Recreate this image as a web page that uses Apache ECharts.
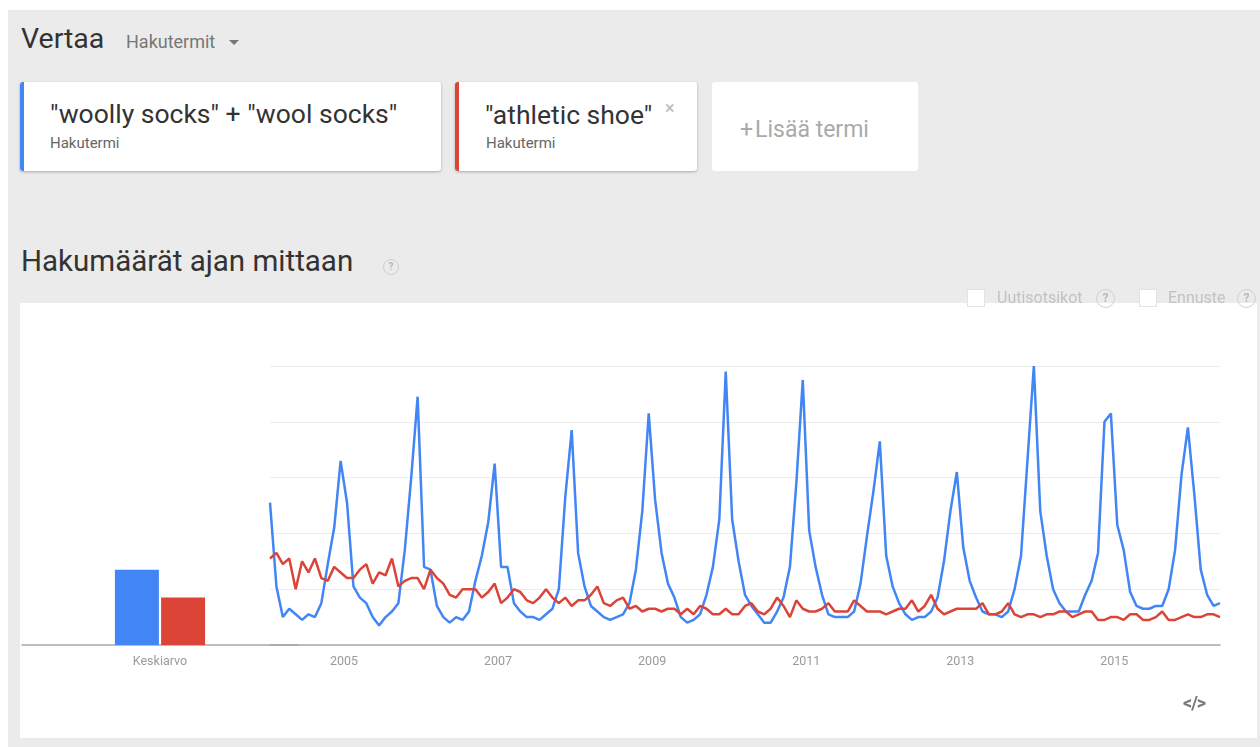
<!DOCTYPE html>
<html>
<head>
<meta charset="utf-8">
<script src="https://cdn.jsdelivr.net/npm/echarts@6/dist/echarts.min.js"></script>
<style>
  body { margin:0; width:1260px; height:747px; background:#fff; font-family:Roboto, Arial, sans-serif; overflow:hidden; position:relative; }
  .bg { position:absolute; left:8px; top:10px; width:1252px; height:737px; background:#ebebeb; }
  .t { position:absolute; white-space:nowrap; line-height:1; }
  .card { position:absolute; top:82px; height:89px; background:#fff; border-radius:3px; }
  .shadow { box-shadow:0 1px 3px rgba(0,0,0,0.28); }
  .bar-l { position:absolute; left:0; top:0; width:4px; height:100%; border-radius:3px 0 0 3px; }
  .q { position:absolute; box-sizing:border-box; border-radius:50%; border:1.5px solid #cfcfcf; color:#b8b8b8;
       font-weight:bold; text-align:center; font-family:Roboto, Arial, sans-serif; }
  .cb { position:absolute; box-sizing:border-box; width:18px; height:18px; background:#fff; border:1px solid #e2e2e2; }
  #chart { position:absolute; left:20px; top:303px; width:1237px; height:435px; background:#fff; }
</style>
</head>
<body>
<div class="bg"></div>

<div class="t" style="left:21px;top:25px;font-size:28.5px;color:#333;">Vertaa</div>
<div class="t" style="left:126px;top:33px;font-size:18px;color:#777;">Hakutermit</div>
<div style="position:absolute;left:229px;top:40px;width:0;height:0;border-left:5px solid transparent;border-right:5px solid transparent;border-top:5px solid #777;"></div>

<div class="card shadow" style="left:20px;width:421px;">
  <div class="bar-l" style="background:#4285f4;"></div>
</div>
<div class="t" style="left:50px;top:101px;font-size:26.5px;color:#333;">"woolly socks" + "wool socks"</div>
<div class="t" style="left:50px;top:136px;font-size:15px;color:#666;">Hakutermi</div>

<div class="card shadow" style="left:455px;width:242px;">
  <div class="bar-l" style="background:#db4437;"></div>
</div>
<div class="t" style="left:485px;top:102px;font-size:26.5px;color:#333;">"athletic shoe"</div>
<div class="t" style="left:486px;top:136px;font-size:15px;color:#666;">Hakutermi</div>
<div class="t" style="left:665px;top:99px;font-size:18px;color:#bbb;">×</div>

<div class="card" style="left:712px;width:206px;"></div>
<div class="t" style="left:740px;top:118px;font-size:23px;color:#aaa;"><span style="margin-right:2px;">+</span>Lisää termi</div>

<div class="t" style="left:21px;top:247px;font-size:29.5px;color:#333;">Hakumäärät ajan mittaan</div>
<div class="q" style="left:383px;top:259px;width:16px;height:16px;font-size:10px;line-height:13px;">?</div>

<div id="chart"></div>

<div class="cb" style="left:967px;top:289px;"></div>
<div class="t" style="left:997px;top:290px;font-size:16px;color:#c2c2c2;">Uutisotsikot</div>
<div class="q" style="left:1096px;top:289px;width:19px;height:19px;font-size:12px;line-height:16px;">?</div>
<div class="cb" style="left:1139px;top:289px;"></div>
<div class="t" style="left:1168px;top:290px;font-size:16px;color:#c2c2c2;">Ennuste</div>
<div class="q" style="left:1237px;top:289px;width:19px;height:19px;font-size:12px;line-height:16px;">?</div>

<div class="t" style="left:1183px;top:694px;font-size:18px;font-weight:bold;color:#777;letter-spacing:-1px;">&lt;/&gt;</div>

<script>
// Monthly search interest, Jan 2004 – May 2016 (relative scale 0–100)
const startYear = 2004;
const woollySocks = [
  51, 21, 10, 13, 11, 9, 11, 10, 15, 29, 42, 66,
  51, 21, 17, 15, 10, 7, 10, 12, 15, 34, 60, 89,
  28, 27, 14, 10, 8, 10, 9, 12, 23, 32, 44, 65,
  28, 28, 15, 12, 10, 10, 9, 11, 13, 20, 53, 77,
  33, 21, 14, 12, 10, 9, 10, 11, 15, 27, 48, 83,
  52, 33, 22, 17, 10, 8, 9, 11, 18, 28, 45, 98,
  45, 30, 18, 14, 11, 8, 8, 12, 17, 28, 58, 95,
  41, 28, 18, 11, 10, 10, 10, 12, 22, 39, 55, 73,
  32, 21, 15, 11, 9, 10, 10, 12, 17, 30, 48, 62,
  35, 23, 17, 12, 11, 11, 10, 12, 20, 32, 66, 100,
  48, 32, 20, 15, 12, 12, 12, 18, 23, 33, 80, 83,
  43, 34, 19, 14, 13, 13, 14, 14, 20, 34, 61, 78,
  54, 27, 18, 14, 15
];
const athleticShoe = [
  31, 33, 29, 31, 20, 30, 26, 31, 24, 23, 28, 26,
  24, 24, 27, 29, 22, 26, 25, 31, 21, 23, 24, 24,
  20, 27, 24, 22, 18, 17, 20, 20, 20, 17, 19, 22,
  15, 17, 20, 19, 16, 15, 17, 20, 17, 15, 17, 14,
  16, 16, 18, 21, 15, 14, 16, 17, 13, 14, 12, 13,
  13, 12, 13, 13, 11, 13, 11, 14, 13, 11, 11, 13,
  11, 11, 14, 15, 12, 11, 13, 17, 14, 10, 16, 13,
  12, 12, 13, 15, 12, 12, 12, 16, 14, 12, 12, 12,
  11, 12, 13, 13, 16, 12, 14, 18, 13, 11, 12, 13,
  13, 13, 13, 15, 11, 11, 12, 15, 11, 10, 11, 11,
  10, 11, 11, 12, 12, 10, 11, 12, 12, 9, 9, 10,
  10, 9, 11, 11, 9, 9, 10, 12, 9, 9, 10, 11,
  10, 10, 11, 11, 10
];
// Averages over the whole period
const averageCategory = ['Keskiarvo'];
const averages = [27, 17];
// Years shown on the time axis
const yearLabels = ['2005', '2007', '2009', '2011', '2013', '2015'];

const BLUE = '#4285f4';
const RED = '#db4437';

const months = woollySocks.map((_, i) => {
  const y = startYear + Math.floor(i / 12);
  const m = (i % 12) + 1;
  return y + '-' + String(m).padStart(2, '0');
});

const axisLineStyle = { lineStyle: { color: '#a8a8a8', width: 1.5 } };
const labelStyle = { color: '#9a9a9a', fontSize: 12.5, fontFamily: 'Roboto, Arial, sans-serif', margin: 10 };

const chart = echarts.init(document.getElementById('chart'), null, { renderer: 'canvas' });
chart.setOption({
  animation: false,
  grid: [
    { left: 2, width: 276, top: 63, height: 279 },
    { left: 250, width: 950, top: 63, height: 279 }
  ],
  xAxis: [
    {
      type: 'category', gridIndex: 0, data: averageCategory,
      axisLine: axisLineStyle, axisTick: { show: false },
      axisLabel: labelStyle
    },
    {
      type: 'category', gridIndex: 1, data: months, boundaryGap: false,
      axisLine: axisLineStyle, axisTick: { show: false },
      axisLabel: Object.assign({}, labelStyle, {
        padding: [0, 6, 0, 0],
        interval: (idx, val) => val.endsWith('-01') && yearLabels.includes(val.slice(0, 4)),
        formatter: (val) => val.slice(0, 4)
      })
    }
  ],
  yAxis: [
    { type: 'value', gridIndex: 0, min: 0, max: 100, show: false },
    {
      type: 'value', gridIndex: 1, min: 0, max: 100, interval: 20,
      axisLine: { show: false }, axisTick: { show: false }, axisLabel: { show: false },
      splitLine: { lineStyle: { color: '#ececec', width: 1 } }
    }
  ],
  series: [
    { type: 'bar', xAxisIndex: 0, yAxisIndex: 0, data: [averages[0]], barWidth: 44, barGap: '5%', itemStyle: { color: BLUE } },
    { type: 'bar', xAxisIndex: 0, yAxisIndex: 0, data: [averages[1]], barWidth: 44, barGap: '5%', itemStyle: { color: RED } },
    { type: 'line', xAxisIndex: 1, yAxisIndex: 1, data: woollySocks, symbol: 'none', lineStyle: { color: BLUE, width: 2.5 } },
    { type: 'line', xAxisIndex: 1, yAxisIndex: 1, data: athleticShoe, symbol: 'none', lineStyle: { color: RED, width: 2.5 } }
  ]
});
</script>
</body>
</html>
